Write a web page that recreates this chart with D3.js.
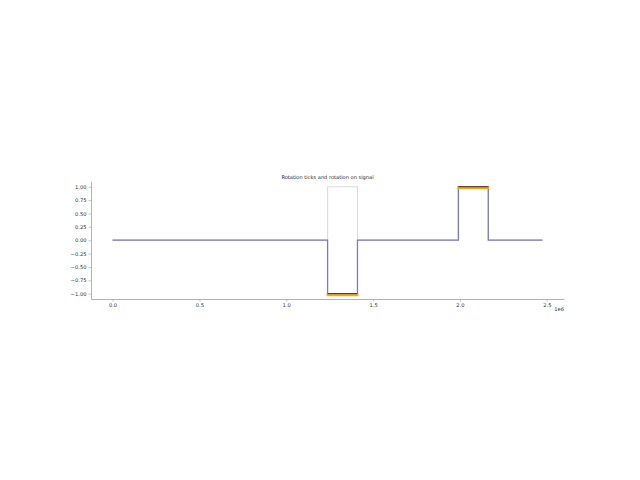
<!DOCTYPE html>
<html><head><meta charset="utf-8">
<script src="https://cdn.jsdelivr.net/npm/d3@7"></script>
<style>body{margin:0;background:#fff}svg{display:block}</style>
</head><body>
<svg id="c" width="640" height="480"></svg>
<script>
const signalX = [0, 1.238e6, 1.238e6, 1.41e6, 1.41e6, 1.991e6, 1.991e6, 2.163e6, 2.163e6, 2.475e6];
const signalY = [0, 0, -1, -1, 0, 0, 1, 1, 0, 0];
const rotationY = [0, 0, 1, 1, 0, 0, 1, 1, 0, 0];
const tickStart = [1.238e6, 1.991e6];
const tickEnd = [1.41e6, 2.163e6];
const tickLevel = [-1, 1];
const xTicks = [0, 0.5e6, 1.0e6, 1.5e6, 2.0e6, 2.5e6];
const yTicks = [-1, -0.75, -0.5, -0.25, 0, 0.25, 0.5, 0.75, 1];
const title = "Rotation ticks and rotation on signal";

const svg = d3.select("#c");
const x = d3.scaleLinear().domain([-0.12375e6, 2.59875e6]).range([91, 564]);
const y = d3.scaleLinear().domain([-1.1, 1.1]).range([299, 181.4]);
const font = "DejaVu Sans, sans-serif";

const line = d3.line().x(d => x(d[0])).y(d => y(d[1]));
const rot = signalX.map((v, i) => [v, rotationY[i]]);
const sig = signalX.map((v, i) => [v, signalY[i]]);

svg.append("path").attr("d", line(rot)).attr("fill", "none")
  .attr("stroke", "#dcdcdc").attr("stroke-width", 1.2);
svg.append("path").attr("d", line(sig)).attr("fill", "none")
  .attr("stroke", "#7a7ac2").attr("stroke-width", 1.3);

tickStart.forEach((s, i) => {
  const yy = y(tickLevel[i]);
  svg.append("line").attr("x1", x(s) - 1).attr("x2", x(tickEnd[i]) + 1)
    .attr("y1", yy + 1).attr("y2", yy + 1)
    .attr("stroke", "#f5a623").attr("stroke-width", 3);
  svg.append("line").attr("x1", x(s)).attr("x2", x(tickEnd[i]))
    .attr("y1", yy).attr("y2", yy)
    .attr("stroke", "#3a3030").attr("stroke-width", 1);
});

const fmtMinus = s => s.replace("-", "\u2212");
const gx = svg.append("g").attr("transform", "translate(0,299)")
  .call(d3.axisBottom(x).tickValues(xTicks).tickSize(2.5).tickPadding(2)
    .tickFormat(d => (d / 1e6).toFixed(1)).tickSizeOuter(0));
const gy = svg.append("g").attr("transform", "translate(91,0)")
  .call(d3.axisLeft(y).tickValues(yTicks).tickSize(2.5).tickPadding(2)
    .tickFormat(d => fmtMinus(d.toFixed(2))).tickSizeOuter(0));
[gx, gy].forEach(g => {
  g.select(".domain").attr("stroke", "#a0a0a0").attr("stroke-width", 0.8);
  g.selectAll(".tick line").attr("stroke", "#a0a0a0").attr("stroke-width", 0.6);
  g.selectAll(".tick text").attr("font-family", font).attr("font-size", 5.2).attr("fill", "#333");
});

svg.append("text").attr("x", 564).attr("y", 311).attr("text-anchor", "end")
  .attr("font-family", font).attr("font-size", 5.2).attr("fill", "#333").text("1e6");

svg.append("text").attr("x", 327.5).attr("y", 179).attr("text-anchor", "middle")
  .attr("font-family", font).attr("font-size", 5.1).attr("fill", "#222").text(title);
</script>
</body></html>
